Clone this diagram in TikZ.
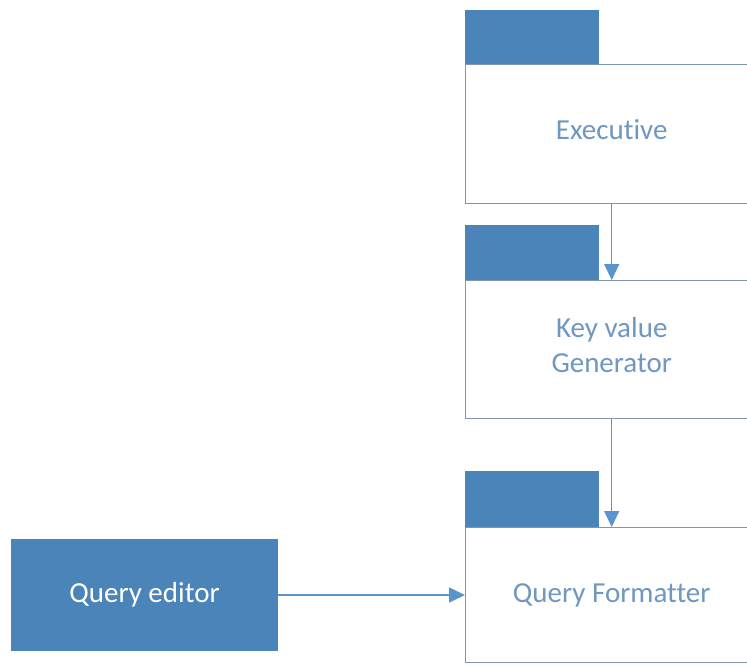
\documentclass[tikz,border=0pt]{standalone}
\usepackage{fontspec}
\setmainfont{Carlito}[Ligatures={NoCommon}]
\usetikzlibrary{arrows.meta}
\definecolor{tabblue}{HTML}{4A84B9}
\definecolor{edgegrey}{HTML}{7F97B2}
\definecolor{labelblue}{HTML}{6E97C2}
\definecolor{linkblue}{HTML}{5B93CC}
\tikzset{
  module/.style={draw=edgegrey, line width=1.4pt, fill=white, anchor=north west,
    minimum width=292pt, inner sep=0pt, font=\fontsize{29}{35}\selectfont,
    text=labelblue, align=center},
  tab/.style={fill=tabblue, draw=none, anchor=south west, minimum width=134pt,
    minimum height=54pt, inner sep=0pt},
  source/.style={fill=tabblue, draw=none, inner sep=0pt, minimum width=267pt,
    minimum height=112pt, font=\fontsize{29}{35}\selectfont, text=white},
  link/.style={draw=linkblue, line width=1.4pt, -{Triangle[length=16pt,width=15pt]}}
}
\begin{document}
\begin{tikzpicture}[x=1pt,y=-1pt]
\useasboundingbox (0,0) rectangle (747,665);
\clip (0,0) rectangle (747,665);
% Executive
\node[module, minimum height=139pt, text depth=9pt] (exec) at (465,64) {Executive};
\node[tab] (exectab) at (exec.north west) {};
% Key value generator
\node[module, minimum height=138pt, text depth=10pt] (keygen) at (465,280) {Key value\\Generator};
\node[tab, minimum height=55pt] (keytab) at (keygen.north west) {};
% Query formatter
\node[module, minimum height=135pt] (qfmt) at (465,527) {Query Formatter};
\node[tab, minimum height=56pt] (qtab) at (qfmt.north west) {};
% Query editor
\node[source] (qedit) at (144.5,595) {Query editor};
% Connectors
\draw[link] (exec.south) -- (keygen.north);
\draw[link] (keygen.south) -- (qfmt.north);
\draw[link] (qedit.east) -- (qedit.east -| qfmt.west);
\end{tikzpicture}
\end{document}
